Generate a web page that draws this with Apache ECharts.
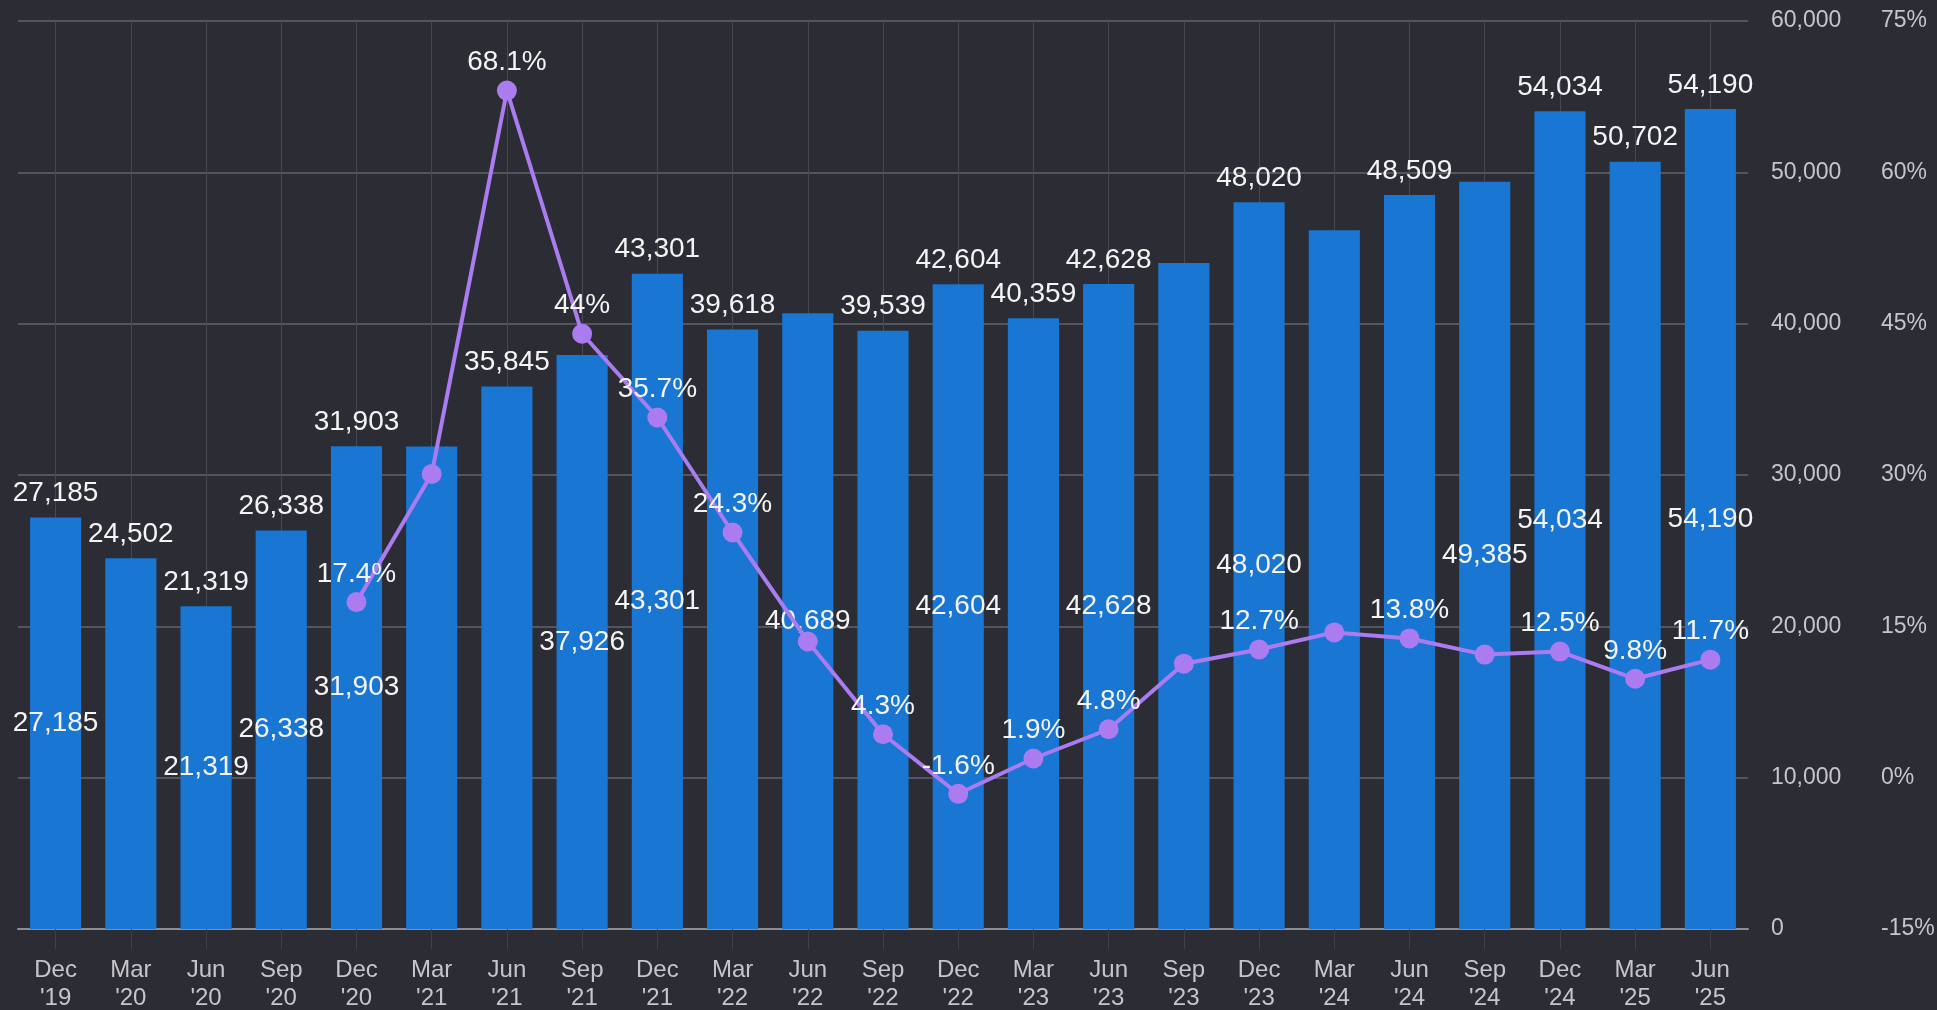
<!DOCTYPE html>
<html>
<head>
<meta charset="utf-8">
<title>Quarterly revenue and YoY growth</title>
<script src="https://cdn.jsdelivr.net/npm/echarts@6/dist/echarts.min.js"></script>
<style>
  html, body { margin: 0; padding: 0; background: #2b2c34; }
  #chart { width: 1937px; height: 1010px; }
</style>
</head>
<body>
<div id="chart"></div>
<script>
// Quarter labels (month + two-digit year)
const quarters = [
  "Dec\n'19", "Mar\n'20", "Jun\n'20", "Sep\n'20", "Dec\n'20", "Mar\n'21", "Jun\n'21", "Sep\n'21",
  "Dec\n'21", "Mar\n'22", "Jun\n'22", "Sep\n'22", "Dec\n'22", "Mar\n'23", "Jun\n'23", "Sep\n'23",
  "Dec\n'23", "Mar\n'24", "Jun\n'24", "Sep\n'24", "Dec\n'24", "Mar\n'25", "Jun\n'25"
];

// Quarterly revenue
const revenue = [
  27185, 24502, 21319, 26338, 31903, 31877, 35845, 37926,
  43301, 39618, 40689, 39539, 42604, 40359, 42628, 44010,
  48020, 46180, 48509, 49385, 54034, 50702, 54190
];

// Year-over-year growth, percent (no prior-year quarter for the first four)
const growth = [
  null, null, null, null, 17.4, 30.1, 68.1, 44,
  35.7, 24.3, 13.5, 4.3, -1.6, 1.9, 4.8, 11.3,
  12.7, 14.4, 13.8, 12.2, 12.5, 9.8, 11.7
];

// Axis ticks
const revenueTicks = { min: 0, max: 60000, step: 10000 };
const growthTicks = { min: -15, max: 75, step: 15 };

// Labels left out where they would collide with a neighbour
const skipTopLabel = [5, 7, 10, 15, 17, 19];
const skipMidLabel = [1, 5, 6, 9, 11, 13, 15, 17, 18, 21];
const skipGrowthLabel = [5, 10, 15, 17, 19];

const FONT = "'Liberation Sans', Arial, sans-serif";
const fmt = v => Number(v).toLocaleString('en-US');

const chart = echarts.init(document.getElementById('chart'), null, { renderer: 'canvas' });

const valueLabel = {
  color: '#f4f4f4',
  fontFamily: FONT,
  fontSize: 28
};

const axisText = {
  color: '#c6c6ca',
  fontFamily: FONT,
  fontSize: 23
};

chart.setOption({
  backgroundColor: '#2b2c34',
  animation: false,
  grid: { left: 18, right: 189, top: 21, bottom: 81, containLabel: false, outerBoundsMode: 'none' },
  xAxis: {
    type: 'category',
    data: quarters,
    axisLine: { show: true, lineStyle: { color: '#8c8c92', width: 2 } },
    axisTick: { show: true, alignWithLabel: true, length: 20, lineStyle: { color: '#3f4048', width: 1 } },
    splitLine: { show: true, alignWithLabel: true, lineStyle: { color: '#474850', width: 1 } },
    axisLabel: Object.assign({
      lineHeight: 28,
      margin: 27,
      interval: 0
    }, axisText, { fontSize: 24 })
  },
  yAxis: [
    {
      type: 'value',
      position: 'right',
      min: revenueTicks.min,
      max: revenueTicks.max,
      interval: revenueTicks.step,
      axisLine: { show: false },
      axisTick: { show: false },
      splitLine: { show: true, lineStyle: { color: '#55565d', width: 2 } },
      axisLabel: Object.assign({
        margin: 23,
        formatter: v => fmt(v)
      }, axisText)
    },
    {
      type: 'value',
      position: 'right',
      offset: 110,
      min: growthTicks.min,
      max: growthTicks.max,
      interval: growthTicks.step,
      axisLine: { show: false },
      axisTick: { show: false },
      splitLine: { show: false },
      axisLabel: Object.assign({
        margin: 23,
        formatter: v => v + '%'
      }, axisText)
    }
  ],
  series: [
    {
      name: 'Revenue',
      type: 'bar',
      yAxisIndex: 0,
      barWidth: '68%',
      itemStyle: { color: '#1976d2' },
      label: Object.assign({
        show: true,
        position: 'top',
        distance: 10,
        formatter: p => fmt(p.value)
      }, valueLabel),
      data: revenue.map((v, i) => ({ value: v, label: { show: !skipTopLabel.includes(i) } }))
    },
    {
      name: 'Revenue (mid)',
      type: 'bar',
      yAxisIndex: 0,
      barWidth: '68%',
      barGap: '-100%',
      itemStyle: { color: 'rgba(0,0,0,0)' },
      label: Object.assign({
        show: true,
        position: 'inside',
        formatter: p => fmt(p.value)
      }, valueLabel),
      data: revenue.map((v, i) => ({ value: v, label: { show: !skipMidLabel.includes(i) } })),
      z: 3
    },
    {
      name: 'YoY growth',
      type: 'line',
      yAxisIndex: 1,
      symbol: 'circle',
      symbolSize: 20,
      connectNulls: false,
      lineStyle: { color: '#aa7cf0', width: 4 },
      itemStyle: { color: '#aa7cf0' },
      label: Object.assign({
        show: true,
        position: 'top',
        distance: 4,
        formatter: p => p.value + '%'
      }, valueLabel),
      data: growth.map((v, i) => ({ value: v, label: { show: !skipGrowthLabel.includes(i) } })),
      z: 4
    }
  ]
});
</script>
</body>
</html>
